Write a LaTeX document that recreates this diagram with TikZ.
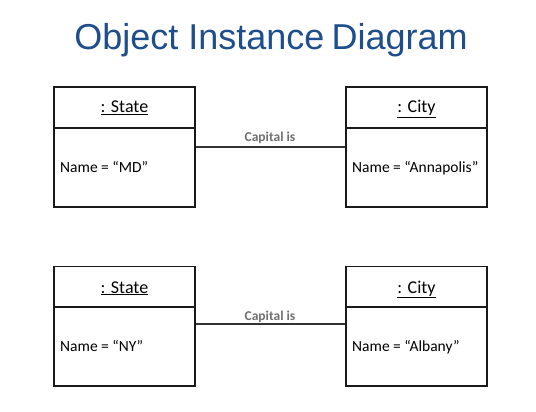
\documentclass[tikz,border=0pt]{standalone}
\usepackage{fontspec}
\setmainfont{Carlito}
\newfontfamily\titlefont{Liberation Sans}
\definecolor{titleblue}{HTML}{1F4E8C}
\definecolor{labelgray}{HTML}{707070}
\definecolor{boxline}{HTML}{1A1A1A}
\begin{document}
\begin{tikzpicture}[x=1pt,y=-1pt,
  hdr/.style={draw=boxline,line width=1.8pt,minimum width=141pt,minimum height=41pt,inner sep=0pt},
  bdy/.style={draw=boxline,line width=1.8pt,minimum width=141pt,minimum height=79pt,inner sep=0pt},
  htxt/.style={anchor=base,inner sep=0pt,font=\fontsize{18}{20}\selectfont},
  attr/.style={anchor=base west,inner sep=0pt,font=\fontsize{15.5}{17}\selectfont},
  link/.style={draw=black!80,line width=1.3pt},
  lbl/.style={anchor=base,inner sep=0pt,text=labelgray,font=\fontsize{13.5}{15}\selectfont\bfseries}]
\useasboundingbox (0,0) rectangle (536,412);
\fill[white] (0,0) rectangle (536,412);
\node[anchor=base,inner sep=0pt,text=titleblue,font=\titlefont\fontsize{36}{40}\selectfont] (title) at (271,50) {Object Instance\hspace{-3pt} Diagram};

% top pair
\node[bdy] (b1) at (124.5,167.5) {};
\node[hdr] (h1) at (124.5,107.5) {};
\node[htxt] (s1) at (124.5,113) {\underline{: State}};
\node[attr] (t1) at (60,172) {Name = “MD”};
\node[bdy] (b2) at (416.5,167.5) {};
\node[hdr] (h2) at (416.5,107.5) {};
\node[htxt] (s2) at (416.5,113) {\underline{: City}};
\node[attr] (t2) at (352,172) {Name = “Annapolis”};
\draw[link] ([yshift=-20pt]b1.north east) coordinate (l1a) -- ([yshift=-20pt]b2.north west) coordinate (l1b);
\node[lbl] (c1) at (270,142) {Capital is};

% bottom pair
\node[bdy] (b3) at (124.5,346.5) {};
\node[hdr] (h3) at (124.5,287) {};
\node[htxt] (s3) at (124.5,293) {\underline{: State}};
\node[attr] (t3) at (60,351) {Name = “NY”};
\node[bdy] (b4) at (416.5,346.5) {};
\node[hdr] (h4) at (416.5,287) {};
\node[htxt] (s4) at (416.5,293) {\underline{: City}};
\node[attr] (t4) at (352,351) {Name = “Albany”};
\draw[link] ([yshift=-18pt]b3.north east) coordinate (l2a) -- ([yshift=-18pt]b4.north west) coordinate (l2b);
\node[lbl] (c2) at (270,320) {Capital is};
\end{tikzpicture}
\end{document}
